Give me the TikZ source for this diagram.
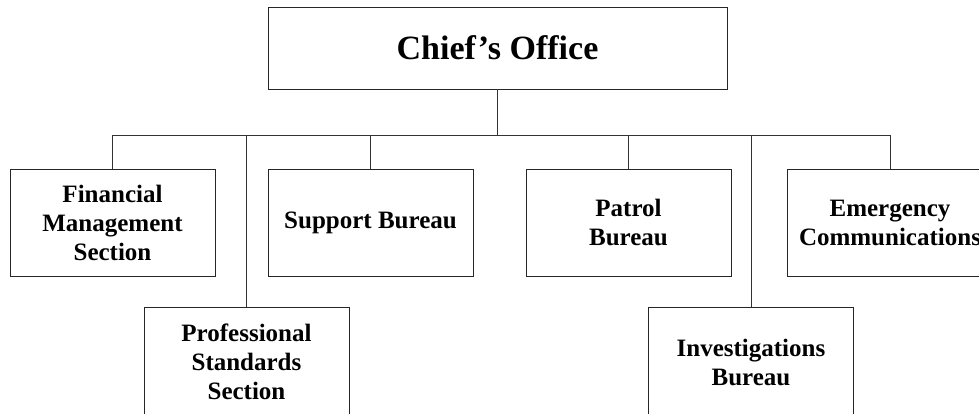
\documentclass[tikz,border=0pt]{standalone}
\usepackage{fontspec}
\setmainfont{Liberation Serif}
\begin{document}
\begin{tikzpicture}[x=1pt,y=-1pt,
  box/.style={draw=black!85,line width=0.9pt,fill=white,minimum width=205pt,minimum height=107pt,
    align=center,inner sep=0pt,font=\fontsize{25}{29}\selectfont\bfseries},
  conn/.style={draw=black!80,line width=0.9pt}]
\clip (0,0) rectangle (979,413);
\fill[white] (0,0) rectangle (979,413);
\node[box,minimum width=459pt,minimum height=82pt,font=\fontsize{34}{40}\selectfont\bfseries] (chief) at (497.5,48) {Chief’s Office};
\coordinate (bus) at (497.5,135);
\node[box] (fin) at (112.5,222.5) {Financial\\Management\\Section};
\node[box] (sup) at (370.5,222.5) {Support Bureau};
\node[box] (pat) at (628.5,222.5) {Patrol\\Bureau};
\node[box] (emg) at (890,222.5) {Emergency\\Communications};
\node[box,minimum height=110pt] (prof) at (246.5,362) {Professional\\Standards\\Section};
\node[box,minimum height=110pt] (inv) at (751,362) {Investigations\\Bureau};
\draw[conn] (chief.south) -- (bus);
\draw[conn] (fin.north |- bus) -- (emg.north |- bus);
\foreach \n in {fin,sup,pat,emg,prof,inv} \draw[conn] (\n.north) -- (\n.north |- bus);
\end{tikzpicture}
\end{document}
